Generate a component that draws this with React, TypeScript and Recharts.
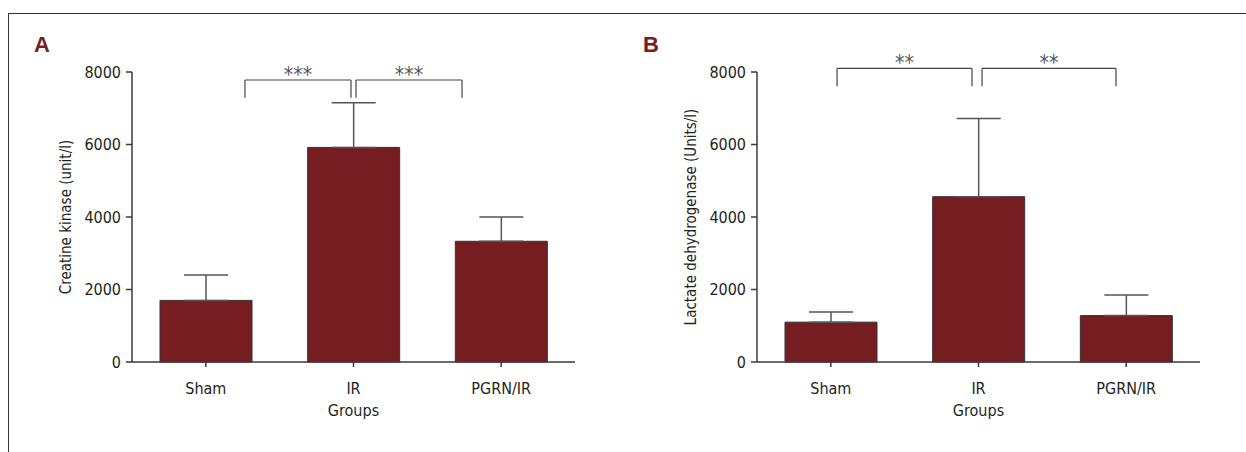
import { BarChart, Bar, XAxis, YAxis, ErrorBar, ReferenceLine, ReferenceDot } from 'recharts'

const GROUPS = ['Sham', 'IR', 'PGRN/IR']
const CK_MEAN = [1700, 5920, 3330]
const CK_ERR = [700, 1230, 670]
const LDH_MEAN = [1100, 4560, 1280]
const LDH_ERR = [280, 2160, 570]
const Y_TICKS = [0, 2000, 4000, 6000, 8000]
const SLOT_TICKS = [0.5, 1.5, 2.5]

// significance brackets, x on a 0..3 scale spanning the three groups
const CK_BRACKETS = [
  { from: 0.765, to: 1.483, top: 7780, foot: 7290, stars: '***' },
  { from: 1.517, to: 2.235, top: 7780, foot: 7290, stars: '***' },
]
const LDH_BRACKETS = [
  { from: 0.542, to: 1.456, top: 8100, foot: 7610, stars: '**' },
  { from: 1.524, to: 2.431, top: 8100, foot: 7610, stars: '**' },
]

const FONT = "'Liberation Sans Narrow', 'DejaVu Sans Condensed', 'Arial Narrow', sans-serif"
const BAR_FILL = '#761d21'
const INK = '#231f20'
const AXIS = '#3a3a3a'

interface Bracket {
  from: number
  to: number
  top: number
  foot: number
  stars: string
}

interface PanelProps {
  means: number[]
  errs: number[]
  yLabel: string
  brackets: Bracket[]
}

function Panel({ means, errs, yLabel, brackets }: PanelProps) {
  // each group sits in the middle of its unit-wide slot
  const data = GROUPS.map((g, i) => ({ group: g, slot: i + 0.5, mean: means[i], err: [0, errs[i]] }))

  return (
    <BarChart
      width={600}
      height={452}
      data={data}
      margin={{ top: 72, right: 25, bottom: 30, left: 0 }}
    >
      <XAxis
        dataKey="slot"
        type="number"
        domain={[0, 3]}
        ticks={SLOT_TICKS}
        interval={0}
        tickFormatter={(v: number) => GROUPS[Math.floor(v)]}
        height={60}
        tickSize={5}
        tickMargin={16}
        tick={{ fontSize: 16, fill: INK, fontFamily: FONT }}
        stroke={AXIS}
        strokeWidth={1.5}
        label={{
          value: 'Groups',
          content: (props: any) => {
            const vb = props.viewBox || {}
            return (
              <text
                x={vb.x + vb.width / 2}
                y={vb.y + 54}
                textAnchor="middle"
                fontSize={16}
                fill={INK}
                fontFamily={FONT}
              >
                Groups
              </text>
            )
          },
        }}
      />
      <YAxis
        width={132}
        domain={[0, 8000]}
        ticks={Y_TICKS}
        interval={0}
        tickSize={6}
        tickMargin={5}
        tick={{ fontSize: 16, fill: INK, fontFamily: FONT }}
        stroke={AXIS}
        strokeWidth={1.5}
        label={{
          value: yLabel,
          content: (props: any) => {
            const vb = props.viewBox || {}
            const cx = vb.x + 66
            const cy = vb.y + vb.height / 2
            return (
              <text
                x={cx}
                y={cy}
                transform={`rotate(-90, ${cx}, ${cy})`}
                textAnchor="middle"
                dominantBaseline="central"
                fontSize={15}
                fill={INK}
                fontFamily={FONT}
              >
                {yLabel}
              </text>
            )
          },
        }}
      />
      <Bar
        dataKey="mean"
        barSize={92}
        fill={BAR_FILL}
        stroke="#333"
        strokeWidth={1}
        isAnimationActive={false}
      >
        <ErrorBar dataKey="err" width={22} stroke="#555" strokeWidth={1.5} direction="y" />
      </Bar>
      {brackets.map((b, i) => [
        <ReferenceLine
          key={`h${i}`}
          ifOverflow="visible"
          segment={[{ x: b.from, y: b.top }, { x: b.to, y: b.top }]}
          stroke="#444"
          strokeWidth={1.2}
        />,
        <ReferenceLine
          key={`l${i}`}
          ifOverflow="visible"
          segment={[{ x: b.from, y: b.top }, { x: b.from, y: b.foot }]}
          stroke="#444"
          strokeWidth={1.2}
        />,
        <ReferenceLine
          key={`r${i}`}
          ifOverflow="visible"
          segment={[{ x: b.to, y: b.top }, { x: b.to, y: b.foot }]}
          stroke="#444"
          strokeWidth={1.2}
        />,
        <ReferenceDot
          key={`s${i}`}
          ifOverflow="visible"
          x={(b.from + b.to) / 2}
          y={b.top}
          r={0}
          fill="none"
          stroke="none"
          label={{ value: b.stars, position: 'top', offset: -2, fontSize: 21, fill: '#555', fontFamily: FONT }}
        />,
      ])}
    </BarChart>
  )
}

export default function App() {
  return (
    <div style={{ position: 'relative', width: 1246, height: 452, overflow: 'hidden', background: '#fff' }}>
      <style>{'body{margin:0}'}</style>
      <div
        style={{
          position: 'absolute',
          left: 8,
          top: 13,
          right: 0,
          bottom: 0,
          borderTop: '1px solid #333',
          borderLeft: '1px solid #333',
        }}
      />
      <div style={{ position: 'absolute', left: 34, top: 34, fontFamily: "'Liberation Sans', sans-serif", fontWeight: 700, fontSize: 22, color: BAR_FILL, lineHeight: '22px' }}>
        A
      </div>
      <div style={{ position: 'absolute', left: 643, top: 34, fontFamily: "'Liberation Sans', sans-serif", fontWeight: 700, fontSize: 22, color: BAR_FILL, lineHeight: '22px' }}>
        B
      </div>
      <div style={{ position: 'absolute', left: 0, top: 0 }}>
        <Panel means={CK_MEAN} errs={CK_ERR} yLabel="Creatine kinase (unit/l)" brackets={CK_BRACKETS} />
      </div>
      <div style={{ position: 'absolute', left: 625, top: 0 }}>
        <Panel means={LDH_MEAN} errs={LDH_ERR} yLabel="Lactate dehydrogenase (Units/l)" brackets={LDH_BRACKETS} />
      </div>
    </div>
  )
}
